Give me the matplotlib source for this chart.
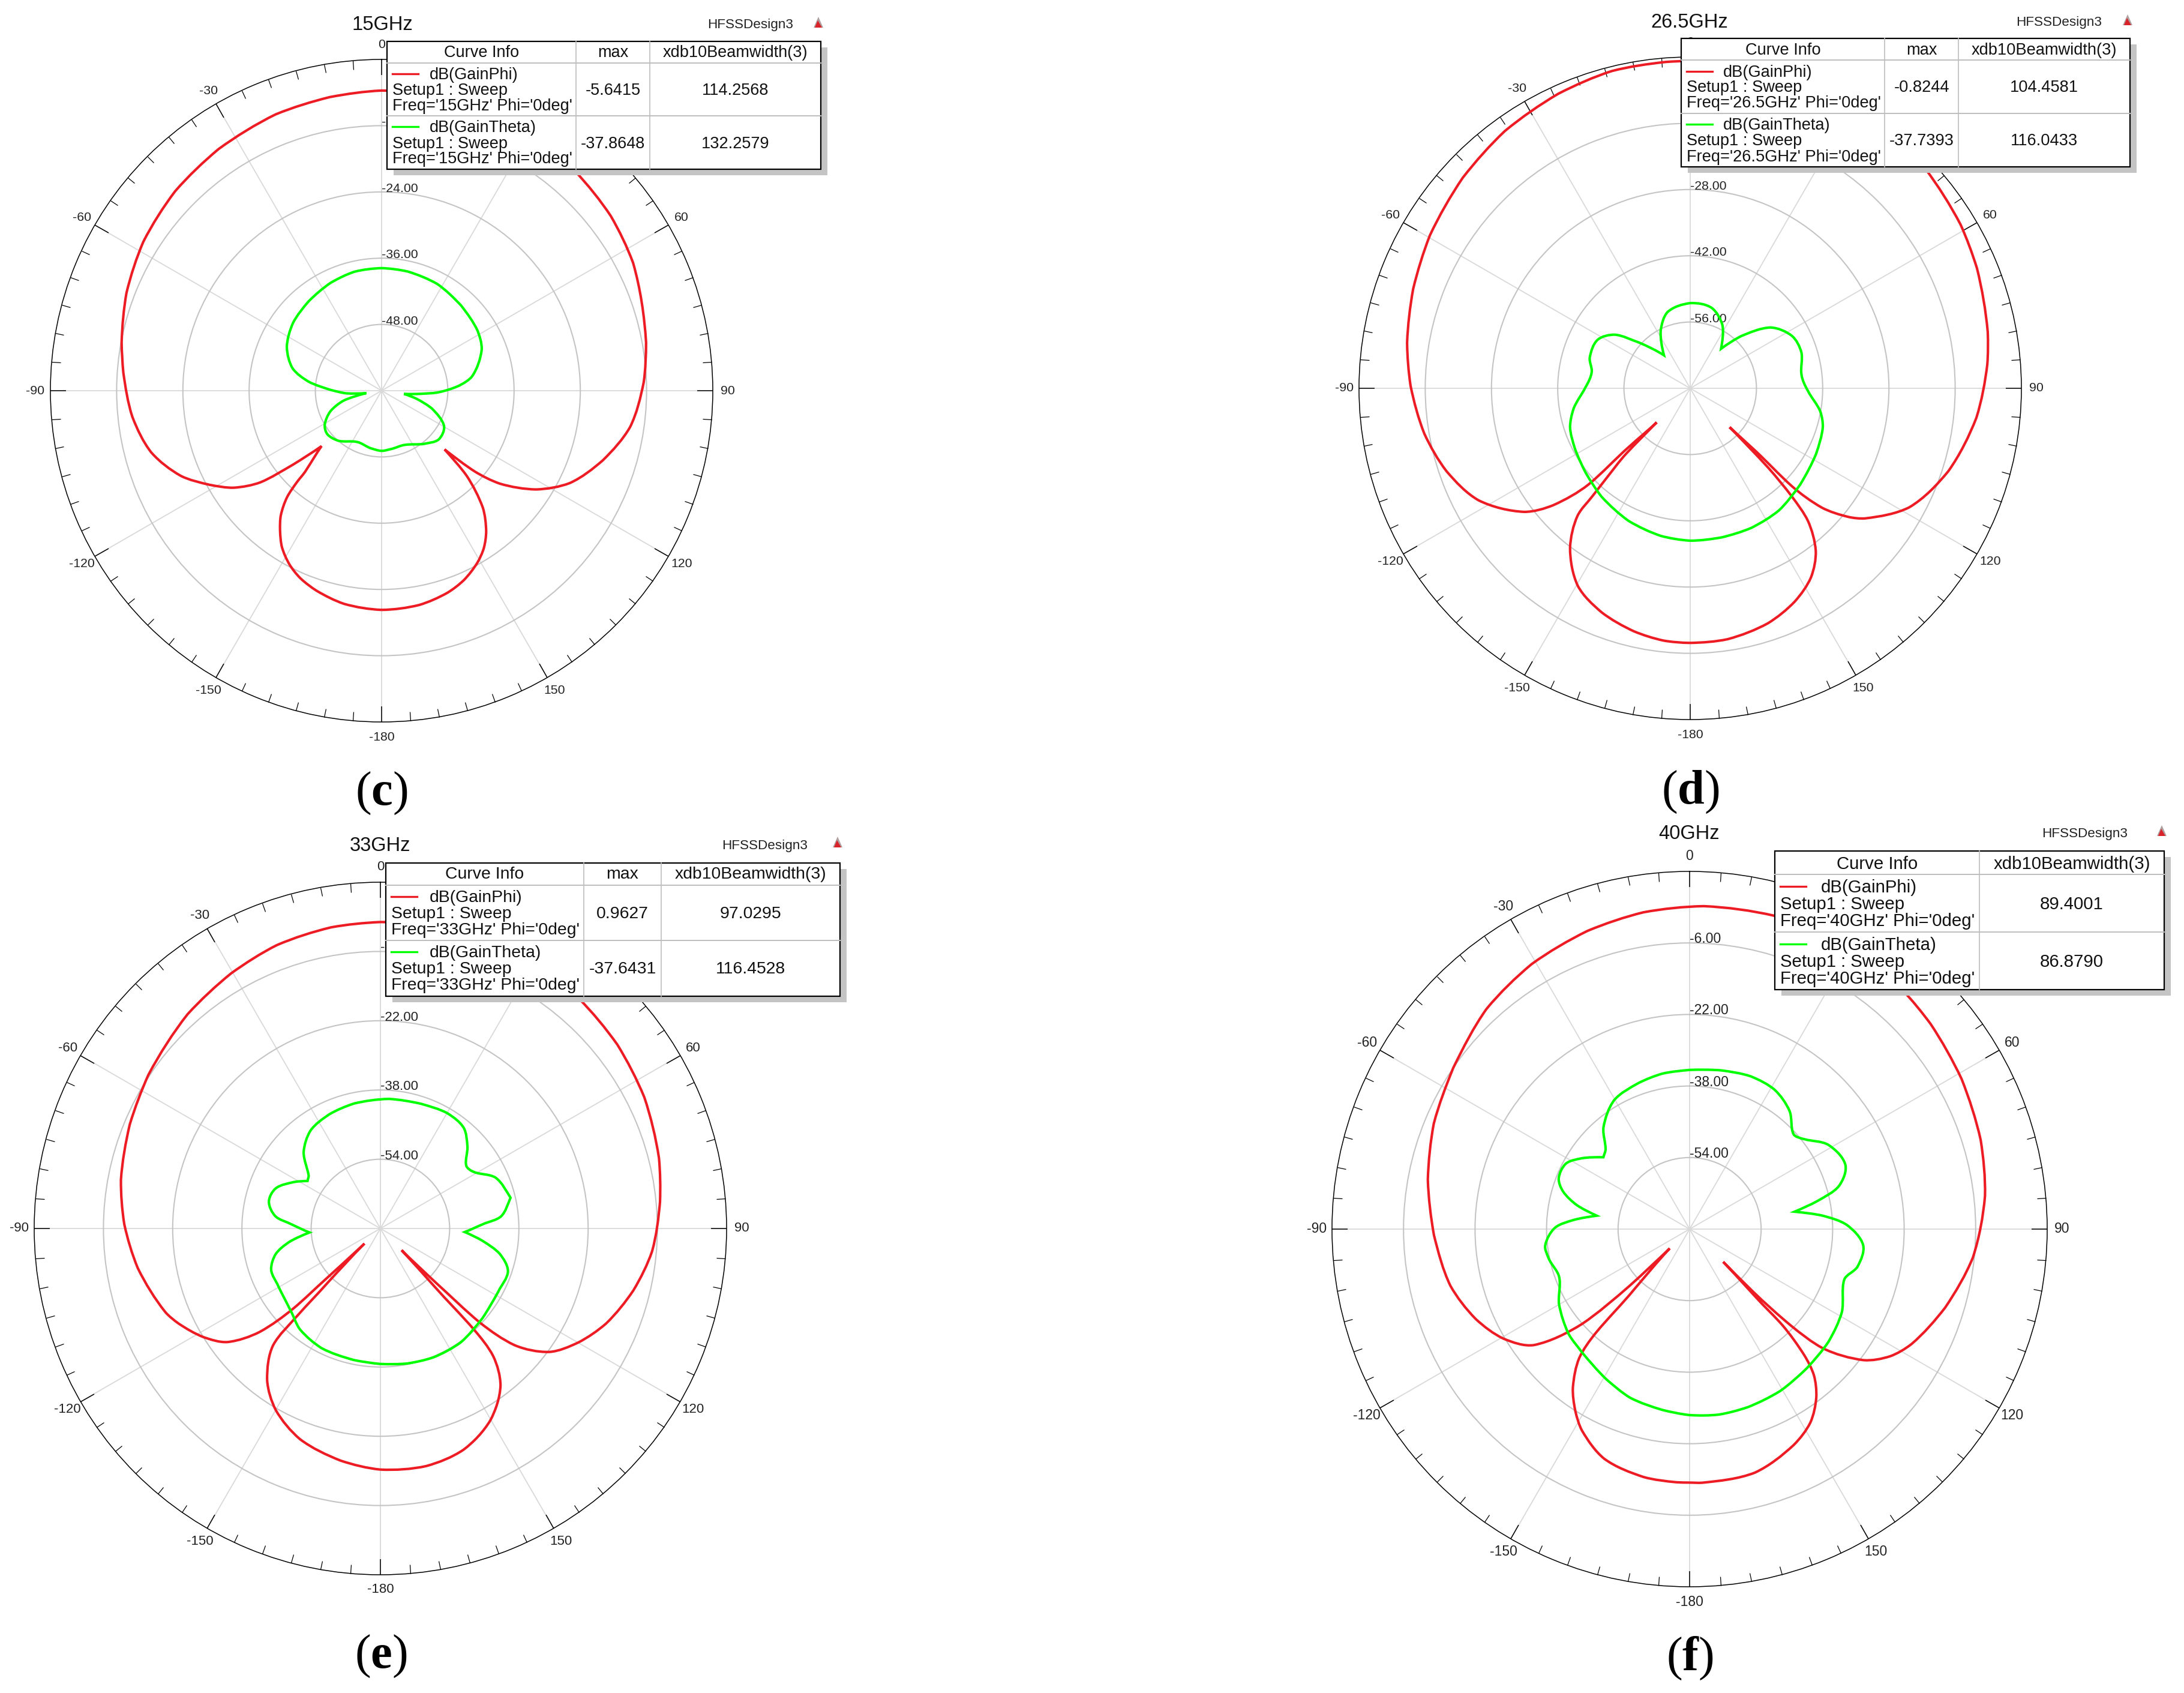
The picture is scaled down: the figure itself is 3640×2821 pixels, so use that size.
import numpy as np
import matplotlib
matplotlib.use('Agg')
import matplotlib.pyplot as plt
from matplotlib.patches import Rectangle, Polygon, PathPatch
from matplotlib.path import Path

plt.rcParams['font.family'] = ['Liberation Sans', 'DejaVu Sans']
plt.rcParams['mathtext.fontset'] = 'custom'
plt.rcParams['mathtext.rm'] = 'Liberation Serif'
plt.rcParams['mathtext.bf'] = 'Liberation Serif:bold'

W = 3640
H = 2821

# 15GHz
c_phi_theta = [-180, -170, -162, -156.5, -152, -147.5, -144, -141, -138.4, -137.2, -136.5, -132.7, -129.8, -127.1, -123.3, -118.7, -113, -105, -96,
               -86, -79.5, -69, -58, -46, -34, -21, -10, 0, 10, 20, 30, 41.4, 52.7, 63.1, 79.7, 88.2, 98.3, 107.5, 116.1, 122.6,
               128.2, 130.9, 133, 135, 139.1, 143.3, 147, 151, 156.5, 162, 170, 180]
c_phi_db = [-20.3, -20.8, -21.9, -23, -24.4, -26.4, -28.7, -31, -34.2, -37.4, -40.1, -45.2, -39, -32.5, -28, -24.5, -20.5, -16.8, -14.6,
            -13.1, -12.1, -10.5, -9.1, -8.0, -7.2, -6.4, -6.0, -5.64, -5.7, -6.0, -6.5, -7.0, -7.8, -8.9, -11.3, -12.5, -14.5, -18.0, -22.0, -26.8,
            -32.8, -37.6, -44.4, -38.2, -32, -28.3, -26, -24.3, -22.6, -21.5, -20.6, -20.3]
c_theta_theta = [-180, -168.9, -154.4, -139, -128.7, -120.9, -111.9, -104.6, -99, -94.3, -89, -83, -76, -65.3, -52.7, -39.2, -25.5, -12.9,
                 0, 12.3, 27.6, 43.1, 58, 67.7, 81, 86.4, 91.9, 95, 98.2, 102.8, 109.6, 119.5, 130.5, 141.6, 156.5, 170, 180]
c_theta_db = [-49.1, -49.4, -49.7, -48, -47.4, -48, -50, -52.9, -57.2, -53.6, -50.7, -46.7, -43.4, -41.1, -39.8, -39.1, -38.4, -37.9,
              -37.8, -37.9, -38.2, -38.9, -39.5, -40.4, -43.4, -46, -49.9, -53.3, -55.9, -53.6, -50.3, -47, -46.4, -47.7, -49.3, -49.3, -49.1]

# 26.5GHz
d_phi_theta = [-180, -173.9, -166.9, -158.4, -150.3, -143, -138.5, -137.8, -137, -135.6, -135.5, -133.7, -133.4, -130.5, -126.7, -117.9, -108.8,
               -99.7, -89.5, -80.9, -70.3, -59.6, -47.2, -35.8, -24.1, -13.9, -4.3, 0, 10, 20, 30, 40, 46.9, 58.8, 67.3, 79.3, 85.4, 95.9, 107.8,
               118.5, 126.6, 129.1, 132.2, 133.9, 133.8, 134.6, 135.5, 136.8, 138.4, 142.3, 147.4, 153.9, 161.7, 171.5, 180]
d_phi_db = [-16.2, -16.4, -17.3, -19.1, -22, -27.8, -34.1, -39.3, -44.1, -50.6, -59.9, -52, -40.4, -32, -26.3, -19.4, -15.6,
            -13, -10.9, -9.4, -7.8, -6.2, -4.5, -3, -1.8, -0.95, -0.85, -0.82, -0.85, -0.9, -1.1, -1.5, -2, -3.2, -4.3, -6.0, -7.0, -9.2, -12.7,
            -17.3, -23.9, -26.9, -32.5, -40.1, -51, -58.3, -46.5, -38.5, -32.5, -26.6, -22.6, -19.8, -17.7, -16.4, -16.2]
d_theta_theta = [-180, -168.7, -155.1, -140.8, -128.9, -117.6, -108, -99.8, -89.3, -80.7, -73, -62.4, -54.5, -48.2, -38.5, -27.1, -16.6, 0,
                 14.9, 27, 38, 44.3, 52.9, 62.8, 72, 83, 91.3, 100, 106.3, 117.5, 131.3, 144, 156.3, 167.9, 180]
d_theta_db = [-37.8, -38.2, -39.1, -40.4, -41.6, -42.5, -43.3, -45, -47.9, -48.9, -47.8, -47.9, -50.5, -55.5, -61.1, -56.3, -53.2, -52,
              -52.4, -55, -59.4, -54.6, -48.7, -45.8, -45.3, -46.3, -45.1, -42.1, -40.8, -40, -39.1, -38.1, -37.8, -37.8, -37.8]

# 33GHz
e_phi_theta = [-180, -170.2, -159.1, -150, -143.2, -137.4, -136.4, -135.8, -133.5, -132.8, -132.6, -130.6, -126.6, -121.5, -115.3, -111.3, -99.3, -89,
               -79.4, -67.5, -56.5, -42, -30.3, -20.1, -9.3, 0, 10, 20, 30, 40.7, 52.2, 63.6, 75.8, 84.6, 94.8, 103.7, 112.8, 119.9, 126.2,
               131, 133.4, 134.3, 135.7, 137, 137.2, 138.5, 142.6, 150.2, 159.4, 169.1, 180]
e_phi_db = [-14.3, -15.6, -17.9, -21.6, -26.3, -33.4, -42.2, -52.5, -64.9, -52.6, -42.8, -33.3, -26, -22, -18.5, -16.7, -13.2, -10.8,
            -9.0, -7.3, -5.7, -3.4, -1.7, -0.3, 0.5, 0.8, 0.96, 0.9, 0.6, 0.2, -0.7, -1.9, -3.6, -5.1, -7.0, -9.8, -13.4, -17.2, -21.7,
            -28.9, -38.4, -51.8, -63, -51.8, -38.2, -30.7, -24.3, -18.9, -15.4, -14.1, -14.3]
e_theta_theta = [-180, -168.5, -153.7, -141.3, -132.3, -119.5, -110.8, -103.7, -98.4, -93.2, -87.4, -83.4, -76.5, -69, -61.6, -56.9, -53.3, -45.2,
                 -35.5, -24.1, -12.1, 3.6, 17.9, 30.2, 39.6, 46.8, 53.7, 59, 66.2, 76.7, 84.3, 87.7, 92.4, 96.8, 102, 108.6, 118.1, 131.4,
                 144.8, 157.4, 168.8, 180]
e_theta_db = [-38.7, -39, -39.2, -40.2, -41.9, -42.9, -43, -45.1, -48.7, -53.6, -49.5, -45.6, -43.5, -44.1, -47.4, -49.9, -49.3, -45,
              -42.2, -41.1, -40.5, -40, -39.7, -39.2, -39.8, -42.4, -45.4, -44.7, -40.9, -39.1, -42, -46.4, -50.5, -46.3, -41.8, -38.9, -39.1, -38.6,
              -37.8, -37.8, -38.2, -38.7]

# 40GHz
f_phi_theta = [-180, -177, -169.5, -159.6, -151.9, -147.8, -143.6, -139.4, -137.9, -137.4, -134.2, -133.4, -131.4, -126.7, -120.5, -112.8, -103.3, -91.4,
               -79.3, -67.6, -55.7, -42.7, -30.8, -18.9, -8.3, 2.5, 15.2, 30, 41.7, 49.6, 61.1, 73, 83.6, 95.7, 107.1, 117.4, 122.4, 127,
               131.8, 133.6, 134.6, 134.3, 135.8, 136, 137.7, 139.6, 143, 148, 154.2, 165, 177.2, 180]
f_phi_db = [-13.3, -13.3, -13.6, -15.2, -18.9, -22, -26, -32.1, -38.6, -51.7, -63.8, -51.7, -37.9, -26.6, -21.7, -18.1, -15, -12.8,
            -10.4, -8.1, -6, -3, -1, 0.5, 1.6, 2.3, 2.6, 2.3, 1.6, 0.8, -0.5, -1.9, -3.5, -6.3, -10.2, -14.1, -16.9, -21.3,
            -30, -38.7, -50, -59.5, -48.7, -40, -31.9, -27.1, -22.9, -19, -16.4, -13.6, -13.2, -13.3]
f_theta_theta = [-180, -171.4, -160.6, -150.9, -138.9, -130.8, -119.9, -110.3, -101.8, -96.4, -89.4, -85.4, -81.8, -78, -73.5, -68.8, -62.1, -56.6, -50.2, -46.3,
                 -40.3, -30.4, -19.4, -10, 0, 11.3, 21.8, 31.5, 40.3, 47.5, 51.9, 58.7, 67.6, 74, 77.6, 80.6, 84.3, 88.5, 95.3, 102.6, 108.2,
                 118.6, 129, 139.9, 150.8, 161.8, 171.1, 180]
f_theta_db = [-28.4, -29.1, -30, -31.6, -33.4, -34.2, -36.3, -38.9, -37.8, -37.5, -39.9, -44.1, -49, -44.2, -40.5, -38.6, -38.7, -41.2, -44.9, -44,
              -40.2, -36.6, -35.4, -34.7, -34.4, -33.8, -33.2, -33.5, -35.4, -38.5, -37.4, -33.7, -32.3, -35.3, -40.7, -46.2, -40, -34.8, -31, -31.5, -33.6,
              -31.2, -30, -29.3, -28.5, -28.1, -28, -28.4]

titles = ['15GHz', '26.5GHz', '33GHz', '40GHz']
panel_names = ['c', 'd', 'e', 'f']
rmins = [-60, -70, -70, -70]
rmaxs = [0, 0, 10, 10]
ring_values = [[-48, -36, -24, -12], [-56, -42, -28, -14], [-54, -38, -22, -6], [-54, -38, -22, -6]]
phi_thetas = [c_phi_theta, d_phi_theta, e_phi_theta, f_phi_theta]
phi_dbs = [c_phi_db, d_phi_db, e_phi_db, f_phi_db]
theta_thetas = [c_theta_theta, d_theta_theta, e_theta_theta, f_theta_theta]
theta_dbs = [c_theta_db, d_theta_db, e_theta_db, f_theta_db]
angle_ticks = [0, 30, 60, 90, 120, 150, 180, 210, 240, 270, 300, 330]
angle_labels = ['0', '30', '60', '90', '120', '150', '-180', '-150', '-120', '-90', '-60', '-30']

max_phi = ['-5.6415', '-0.8244', '0.9627', None]
max_theta = ['-37.8648', '-37.7393', '-37.6431', None]
beam_phi = ['114.2568', '104.4581', '97.0295', '89.4001']
beam_theta = ['132.2579', '116.0433', '116.4528', '86.8790']

# pixel layout of each panel
centers = [(636, 651), (2817, 647), (634, 2047), (2816, 2048)]
radii = [552, 552, 577, 596]
tick_sizes = [15.3, 15.3, 16, 16.5]
title_pos = [(637, 42), (2816, 38), (634, 1410), (2815, 1390)]
design_pos = [(1179, 42), (3360, 38), (1203, 1410), (3403, 1390)]
icon_pos = [(1364, 38), (3546, 34), (1396, 1404), (3603, 1385)]
label_pos = [(636, 1322), (2817, 1320), (635, 2760), (2816, 2763)]
boxes = [(645, 69, 1368, 282), (2802, 64, 3550, 278), (643, 1438, 1400, 1660), (2958, 1418, 3607, 1649)]
col_lines = [(960, 1083), (3141, 3264), (973, 1102), (None, 3299)]
head_lines = [105, 100, 1475, 1457]
mid_lines = [193, 189, 1567, 1553]
legend_sizes = [19.5, 19.6, 20.4, 21.2]
row_offs = [(19, 56, 82, 108, 144, 171, 196), (20, 57, 82, 108, 145, 171, 198),
            (19, 58, 85, 112, 150, 177, 204), (22, 61, 89, 117, 157, 185, 213)]
name_offs = [71, 70, 73, 77]

red = '#ed1c24'
green = '#00ff00'


def curve_path(theta_deg, db, rmin):
    # bezier through the read points, sharp corners kept at the nulls
    t = np.radians(theta_deg)
    r = np.array(db, dtype=float)
    n = len(t) - 1
    x = (r - rmin) * np.sin(t)
    y = (r - rmin) * np.cos(t)
    d = np.hypot(x[1:] - x[:-1], y[1:] - y[:-1])
    mt = np.zeros(n + 1)
    mr = np.zeros(n + 1)
    corner = [False] * (n + 1)
    for i in range(n + 1):
        a = i - 1 if i > 0 else n - 1
        b = i + 1 if i < n else 1
        tp = t[a] - (2 * np.pi if i == 0 else 0)
        tn = t[b] + (2 * np.pi if i == n else 0)
        v1 = np.array([x[i] - x[a], y[i] - y[a]])
        v2 = np.array([x[b] - x[i], y[b] - y[i]])
        c = v1.dot(v2) / (np.hypot(*v1) * np.hypot(*v2))
        corner[i] = c < 0.45
        mt[i] = (tn - tp) / (d[a] + d[b - 1])
        mr[i] = (r[b] - r[a]) / (d[a] + d[b - 1])
    verts = [(t[0], r[0])]
    codes = [Path.MOVETO]
    for i in range(n):
        if corner[i]:
            c1 = (t[i] + (t[i + 1] - t[i]) / 3, r[i] + (r[i + 1] - r[i]) / 3)
        else:
            c1 = (t[i] + mt[i] * d[i] / 3, r[i] + mr[i] * d[i] / 3)
        if corner[i + 1]:
            c2 = (t[i + 1] - (t[i + 1] - t[i]) / 3, r[i + 1] - (r[i + 1] - r[i]) / 3)
        else:
            c2 = (t[i + 1] - mt[i + 1] * d[i] / 3, r[i + 1] - mr[i + 1] * d[i] / 3)
        verts += [c1, c2, (t[i + 1], r[i + 1])]
        codes += [Path.CURVE4, Path.CURVE4, Path.CURVE4]
    return Path(verts, codes)


fig = plt.figure(figsize=(W / 100, H / 100), dpi=100, facecolor='white')

for i in range(4):
    cx, cy = centers[i]
    R = radii[i]
    ax = fig.add_axes([(cx - R) / W, 1 - (cy + R) / H, 2 * R / W, 2 * R / H], projection='polar')
    ax.set_theta_zero_location('N')
    ax.set_theta_direction(-1)
    ax.add_patch(PathPatch(curve_path(phi_thetas[i], phi_dbs[i], rmins[i]), fill=False, ec=red, lw=3.0,
                           joinstyle='miter', capstyle='butt'))
    ax.add_patch(PathPatch(curve_path(theta_thetas[i], theta_dbs[i], rmins[i]), fill=False, ec=green, lw=3.0,
                           joinstyle='miter', capstyle='butt'))
    ax.set_xlim(0, 2 * np.pi)
    ax.set_ylim(rmins[i], rmaxs[i])
    ax.set_axisbelow(True)
    ax.set_rlabel_position(0)
    ax.set_xticks(np.radians(angle_ticks), angle_labels)
    ax.set_xticks(np.radians(np.arange(0, 360, 5)), minor=True)
    ax.set_yticks(ring_values[i], ['%.2f' % v for v in ring_values[i]])
    ax.tick_params(axis='x', which='both', top=True, bottom=False)
    ax.tick_params(axis='x', which='major', direction='in', length=19, width=1.1, pad=11,
                   labelsize=tick_sizes[i], labelcolor='#222222', color='black')
    ax.tick_params(axis='x', which='minor', direction='in', length=10.5, width=0.9, color='black')
    ax.tick_params(axis='y', labelsize=tick_sizes[i], labelcolor='#222222', pad=0)
    ax.xaxis.grid(True, which='major', color='#d9d9d9', lw=1.3)
    ax.xaxis.grid(False, which='minor')
    ax.yaxis.grid(True, color='#c4c4c4', lw=1.5)
    ax.spines['polar'].set_color('black')
    ax.spines['polar'].set_linewidth(1.1)
    for t in ax.get_yticklabels():
        t.set_va('baseline')

# overlay in picture pixels for the legends and captions
ov = fig.add_axes([0, 0, 1, 1], zorder=10)
ov.set_xlim(0, W)
ov.set_ylim(H, 0)
ov.axis('off')

for i in range(4):
    x0, y0, x1, y1 = boxes[i]
    c1, c2 = col_lines[i]
    ov.add_patch(Rectangle((x0 + 11, y0 + 10), x1 - x0, y1 - y0, fc='#c4c4c4', ec='none'))
    ov.add_patch(Rectangle((x0, y0), x1 - x0, y1 - y0, fc='white', ec='black', lw=1.6, zorder=3))
    gray = '#bdbdbd'
    ov.plot([x0, x1], [head_lines[i], head_lines[i]], color=gray, lw=1.4, zorder=4)
    ov.plot([x0, x1], [mid_lines[i], mid_lines[i]], color=gray, lw=1.4, zorder=4)
    if c1 is not None:
        ov.plot([c1, c1], [y0, y1], color=gray, lw=1.2, zorder=4)
    ov.plot([c2, c2], [y0, y1], color=gray, lw=1.2, zorder=4)

    fs = legend_sizes[i]
    off = row_offs[i]
    lx = x0 + 9
    first_end = c1 if c1 is not None else c2
    ov.text((x0 + first_end) / 2, y0 + off[0], 'Curve Info', fontsize=fs, ha='center', va='center', color='#111111', zorder=5)
    if c1 is not None:
        ov.text((c1 + c2) / 2, y0 + off[0], 'max', fontsize=fs, ha='center', va='center', color='#111111', zorder=5)
    ov.text((c2 + x1) / 2, y0 + off[0], 'xdb10Beamwidth(3)', fontsize=fs, ha='center', va='center', color='#111111', zorder=5)

    ov.plot([lx, lx + 43], [y0 + off[1] - 2, y0 + off[1] - 2], color=red, lw=2.4, zorder=5)
    ov.plot([lx, lx + 43], [y0 + off[4] - 2, y0 + off[4] - 2], color=green, lw=2.4, zorder=5)
    freq = "Freq='" + titles[i] + "' Phi='0deg'"
    ov.text(x0 + name_offs[i], y0 + off[1], 'dB(GainPhi)', fontsize=fs, va='center', color='#111111', zorder=5)
    ov.text(lx, y0 + off[2], 'Setup1 : Sweep', fontsize=fs, va='center', color='#111111', zorder=5)
    ov.text(lx, y0 + off[3], freq, fontsize=fs, va='center', color='#111111', zorder=5)
    ov.text(x0 + name_offs[i], y0 + off[4], 'dB(GainTheta)', fontsize=fs, va='center', color='#111111', zorder=5)
    ov.text(lx, y0 + off[5], 'Setup1 : Sweep', fontsize=fs, va='center', color='#111111', zorder=5)
    ov.text(lx, y0 + off[6], freq, fontsize=fs, va='center', color='#111111', zorder=5)
    if c1 is not None:
        ov.text((c1 + c2) / 2, y0 + off[2], max_phi[i], fontsize=fs, ha='center', va='center', color='#111111', zorder=5)
        ov.text((c1 + c2) / 2, y0 + off[5], max_theta[i], fontsize=fs, ha='center', va='center', color='#111111', zorder=5)
    ov.text((c2 + x1) / 2, y0 + off[2], beam_phi[i], fontsize=fs, ha='center', va='center', color='#111111', zorder=5)
    ov.text((c2 + x1) / 2, y0 + off[5], beam_theta[i], fontsize=fs, ha='center', va='center', color='#111111', zorder=5)

    ov.text(title_pos[i][0], title_pos[i][1], titles[i], fontsize=23.5, ha='center', va='center', color='#111111')
    ov.text(design_pos[i][0], design_pos[i][1], 'HFSSDesign3', fontsize=16.2, ha='left', va='center', color='#222222')
    ix, iy = icon_pos[i]
    ov.add_patch(Polygon([(ix - 8, iy + 8), (ix, iy - 10), (ix + 8, iy + 8)], fc='#b0a0a0', ec='none'))
    ov.add_patch(Polygon([(ix - 6, iy + 8), (ix - 1, iy - 4), (ix + 6, iy + 8)], fc='#d8232a', ec='none'))
    ov.text(label_pos[i][0], label_pos[i][1], '($\\mathbf{' + panel_names[i] + '}$)', fontsize=58, ha='center', va='center',
            family='Liberation Serif', color='black')

fig.savefig('out.png', dpi=100, facecolor='white')
